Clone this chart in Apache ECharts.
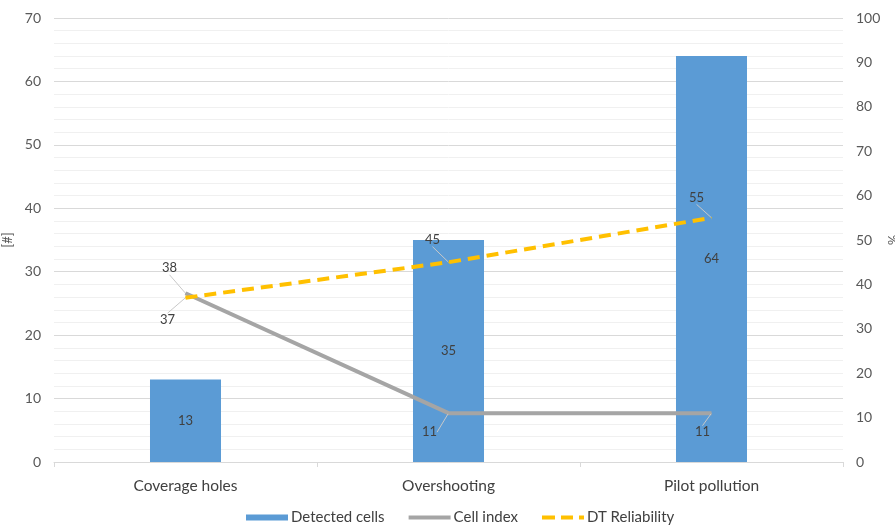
<!DOCTYPE html>
<html>
<head>
<meta charset="utf-8">
<script src="https://cdn.jsdelivr.net/npm/echarts@6/dist/echarts.min.js"></script>
<style>
  html, body { margin: 0; padding: 0; background: #fff; }
  #chart { width: 895px; height: 532px; }
</style>
</head>
<body>
<div id="chart"></div>
<script>
// Categories and series values
const categories = ['Coverage holes', 'Overshooting', 'Pilot pollution'];
const detectedCells = [13, 35, 64];
const cellIndex = [38, 11, 11];
const dtReliability = [37, 45, 55];

// Label offsets (px) for the line labels, joined to their points by leader lines
const cellIndexOffsets = [[-16, -25], [-19, 19], [-9, 19]];
const dtOffsets = [[-18, 22], [-16, -22], [-15, -20]];

const FONT = 'Lato, "Liberation Sans", sans-serif';
const TXT = '#404040';
const AX = '#595959';

// Legend icons: flat bar, solid line, dashed line
const ICON_BAR = 'path://M0,0H42V6H0Z';
const ICON_LINE = 'path://M0,1H42V5H0Z';
const ICON_DASH = 'path://M0,1H13V5H0Z M19,1H31V5H19Z M37,1H42V5H37Z';

const chart = echarts.init(document.getElementById('chart'), null, { renderer: 'canvas' });

chart.setOption({
  animation: false,
  textStyle: { fontFamily: FONT },
  grid: { left: 54, right: 52, top: 18, bottom: 70, outerBoundsMode: 'none', containLabel: false },
  legend: {
    bottom: 2,
    left: 241,
    itemGap: 24,
    itemWidth: 42,
    itemHeight: 6,
    textStyle: { color: TXT, fontSize: 15, fontFamily: FONT, padding: [0, 0, 0, -2] },
    data: [
      { name: 'Detected cells', icon: ICON_BAR },
      { name: 'Cell index', icon: ICON_LINE },
      { name: 'DT Reliability', icon: ICON_DASH }
    ]
  },
  xAxis: {
    type: 'category',
    data: categories,
    axisLine: { lineStyle: { color: '#d9d9d9' } },
    axisTick: { show: true, length: 5, lineStyle: { color: '#d9d9d9' } },
    axisLabel: { color: TXT, fontSize: 15.5, margin: 16, fontFamily: FONT }
  },
  yAxis: [
    {
      type: 'value',
      min: 0, max: 70, interval: 10,
      name: '[#]',
      nameLocation: 'middle',
      nameGap: 40,
      nameMoveOverlap: false,
      nameTextStyle: { color: AX, fontSize: 13, fontFamily: FONT },
      axisLabel: { color: AX, fontSize: 14, margin: 13, fontFamily: FONT },
      axisLine: { show: false },
      axisTick: { show: false },
      splitLine: { lineStyle: { color: '#d9d9d9' } },
      minorTick: { show: false, splitNumber: 5 },
      minorSplitLine: { show: true, lineStyle: { color: '#f0f0f0' } }
    },
    {
      type: 'value',
      min: 0, max: 100, interval: 10,
      name: '%',
      nameLocation: 'middle',
      nameGap: 43,
      nameRotate: -90,
      nameMoveOverlap: false,
      nameTextStyle: { color: AX, fontSize: 13, fontFamily: FONT },
      axisLabel: { color: AX, fontSize: 14, margin: 13, fontFamily: FONT },
      axisLine: { show: false },
      axisTick: { show: false },
      splitLine: { show: false }
    }
  ],
  series: [
    {
      name: 'Detected cells',
      type: 'bar',
      data: detectedCells,
      barWidth: '27%',
      itemStyle: { color: '#5B9BD5' },
      label: { show: true, position: 'inside', color: TXT, fontSize: 13, fontFamily: FONT }
    },
    {
      name: 'Cell index',
      type: 'line',
      yAxisIndex: 1,
      data: cellIndex,
      symbol: 'circle',
      symbolSize: 1,
      showSymbol: true,
      lineStyle: { color: '#A5A5A5', width: 4 },
      itemStyle: { color: '#A5A5A5' },
      label: { show: true, position: 'inside', color: TXT, fontSize: 13, fontFamily: FONT },
      labelLine: { show: true, lineStyle: { color: '#c8c8c8', width: 1 } },
      labelLayout: (p) => ({ dx: cellIndexOffsets[p.dataIndex][0], dy: cellIndexOffsets[p.dataIndex][1] }),
      z: 3
    },
    {
      name: 'DT Reliability',
      type: 'line',
      yAxisIndex: 1,
      data: dtReliability,
      symbol: 'circle',
      symbolSize: 1,
      showSymbol: true,
      lineStyle: { color: '#FFC000', width: 4, type: [12, 7] },
      itemStyle: { color: '#FFC000' },
      label: { show: true, position: 'inside', color: TXT, fontSize: 13, fontFamily: FONT },
      labelLine: { show: true, lineStyle: { color: '#c8c8c8', width: 1 } },
      labelLayout: (p) => ({ dx: dtOffsets[p.dataIndex][0], dy: dtOffsets[p.dataIndex][1] }),
      z: 4
    }
  ]
});
</script>
</body>
</html>
